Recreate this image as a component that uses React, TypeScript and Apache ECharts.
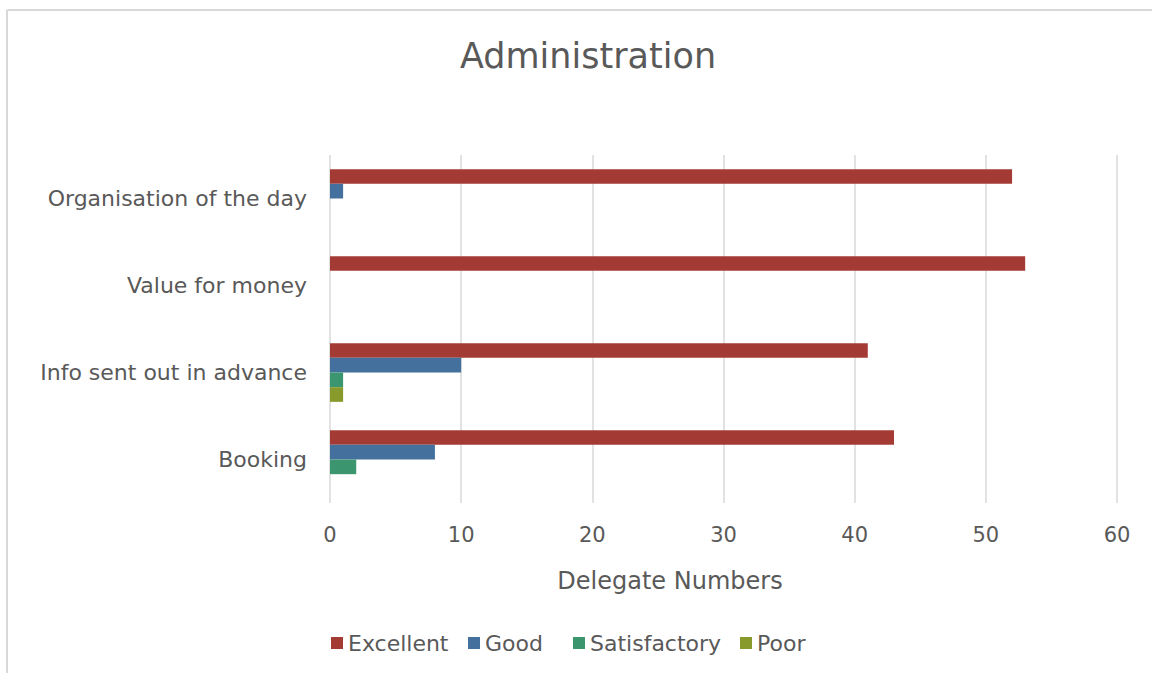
import React, { useEffect, useRef } from "react";
import * as echarts from "echarts";

const categories = ["Organisation of the day", "Value for money", "Info sent out in advance", "Booking"];
const seriesNames = ["Excellent", "Good", "Satisfactory", "Poor"];
const excellent = [52, 53, 41, 43];
const good = [1, 0, 10, 8];
const satisfactory = [0, 0, 1, 2];
const poor = [0, 0, 1, 0];
const colors = ["#A33B34", "#44709E", "#3B9670", "#879A2B"];
const xTicks = { min: 0, max: 60, interval: 10 };

const FONT = "DejaVu Sans";
const TXT = "#595959";
const legendLefts = [326, 463, 568, 735];

export default function App() {
  const ref = useRef<HTMLDivElement>(null);
  useEffect(() => {
    document.body.style.margin = "0";
    const chart = echarts.init(ref.current!, null, { renderer: "svg" });
    const values = [excellent, good, satisfactory, poor];
    chart.setOption({
      animation: false,
      backgroundColor: "#ffffff",
      textStyle: { fontFamily: FONT, color: TXT },
      title: {
        text: "Administration",
        left: 583,
        textAlign: "center",
        top: 33,
        textStyle: { fontFamily: FONT, fontSize: 35, fontWeight: "normal", color: TXT },
      },
      grid: { left: 330, right: 35, top: 155, height: 348 },
      xAxis: {
        type: "value",
        min: xTicks.min,
        max: xTicks.max,
        interval: xTicks.interval,
        axisLine: { show: false },
        axisTick: { show: false },
        axisLabel: { fontFamily: FONT, fontSize: 21, color: TXT, margin: 21 },
        splitLine: { show: true, lineStyle: { color: "#D9D9D9", width: 1.5 } },
      },
      yAxis: {
        type: "category",
        data: categories,
        inverse: true,
        axisLine: { show: false },
        axisTick: { show: false },
        axisLabel: { fontFamily: FONT, fontSize: 22, color: TXT, margin: 23 },
      },
      legend: seriesNames.map((name, i) => ({
        data: [name],
        left: legendLefts[i],
        top: 627,
        icon: "rect",
        itemWidth: 12,
        itemHeight: 12,
        textStyle: { fontFamily: FONT, fontSize: 22, color: TXT },
      })),
      graphic: [
        { type: "line", shape: { x1: 7, y1: 10, x2: 1152, y2: 10 }, style: { stroke: "#D9D9D9", lineWidth: 2 } },
        { type: "line", shape: { x1: 7, y1: 10, x2: 7, y2: 673 }, style: { stroke: "#D9D9D9", lineWidth: 2 } },
        {
          type: "text",
          x: 670,
          y: 581,
          style: { text: "Delegate Numbers", font: `24px "${FONT}"`, fill: TXT, textAlign: "center", textVerticalAlign: "middle" },
        },
      ],
      series: seriesNames.map((name, i) => ({
        name,
        type: "bar",
        data: values[i],
        barGap: "0%",
        barCategoryGap: "32.5%",
        itemStyle: { color: colors[i] },
      })),
    });
    return () => chart.dispose();
  }, []);
  return <div ref={ref} style={{ position: "absolute", left: 0, top: 0, width: 1152, height: 673 }} />;
}
